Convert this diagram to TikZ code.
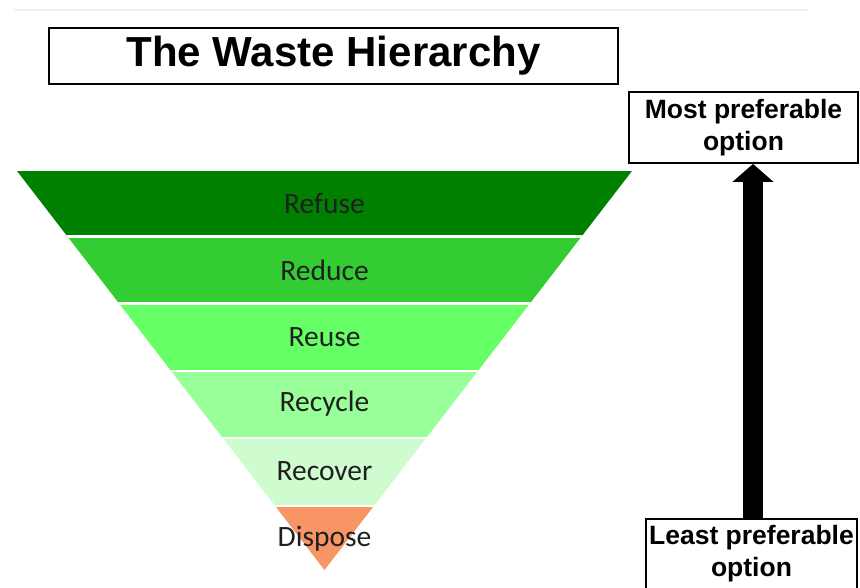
\documentclass[tikz,border=0pt]{standalone}
\usepackage{fontspec}
\setmainfont{Liberation Sans}
\newfontfamily\layerfont{Carlito}
\usetikzlibrary{arrows.meta}
\definecolor{refuse}{RGB}{0,128,0}
\definecolor{reduce}{RGB}{51,204,51}
\definecolor{reuse}{RGB}{102,255,102}
\definecolor{recycle}{RGB}{153,255,153}
\definecolor{recover}{RGB}{206,252,206}
\definecolor{dispose}{RGB}{247,150,100}
\tikzset{title box/.style={ % Box round the heading
draw, line width=2.2pt,
minimum width=569pt, minimum height=56pt,
font=\fontsize{42}{48}\selectfont\bfseries},
option box/.style={ % Boxes at both ends of the arrow
draw, line width=1.8pt, align=center,
font=\fontsize{26.5}{32}\selectfont\bfseries},
layer/.style={ % Labels on the pyramid
font=\layerfont\fontsize{29.5}{32}\selectfont,
text=black!88},
pref arrow/.style={ % Thick arrow from least to most
line width=20pt,
-{Triangle[width=40pt,length=18pt]}}}

\begin{document}
\begin{tikzpicture}[x=1pt, y=-1pt]
	\useasboundingbox (0,0) rectangle (860,588);
	\draw[gray!12, line width=1.5pt] (14,10) -- (808,10);

	\node[title box] (title) at (333.5,56) {The Waste Hierarchy};

	% the upside-down pyramid
	\begin{scope}
		\clip (17,171) -- (632,171) -- (324.5,570) -- cycle;
		\foreach \top/\bot/\col in {171/236.5/refuse, 236.5/303.5/reduce, 303.5/371/reuse,
				371/438/recycle, 438/506/recover, 506/570/dispose}
			\fill[\col] (0,\top) rectangle (860,\bot);
		\foreach \y in {236.5, 303.5, 371, 438, 506}
			\draw[white, line width=2.5pt] (0,\y) -- (860,\y);
	\end{scope}

	\foreach \name/\y in {Refuse/203, Reduce/270, Reuse/337, Recycle/404, Recover/471, Dispose/539}
		\node[layer] (\name) at (324.5,\y) {\name};

	\node[option box, minimum width=229pt, minimum height=71pt] (most) at (743.5,127.5) {Most preferable\\option};
	\node[option box, minimum width=211pt, minimum height=70pt] (least) at (751.5,554) {Least preferable\\option};

	\coordinate (axis) at (753,0);
	\draw[pref arrow] (least.north -| axis) -- (most.south -| axis);
\end{tikzpicture}
\end{document}
